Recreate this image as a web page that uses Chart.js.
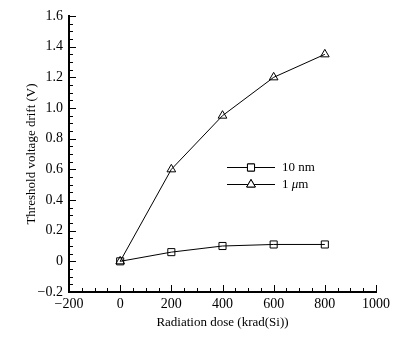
<!DOCTYPE html>
<html>
<head>
<meta charset="utf-8">
<script src="https://cdn.jsdelivr.net/npm/chart.js@4/dist/chart.umd.min.js"></script>
<style>
  html, body { margin: 0; padding: 0; background: #fff; }
  #wrap { width: 409px; height: 337px; }
</style>
</head>
<body>
<div id="wrap"><canvas id="c" width="409" height="337"></canvas></div>
<script>
const doses = [0, 200, 400, 600, 800];
const drift10nm = [0, 0.06, 0.10, 0.11, 0.11];
const drift1um = [0, 0.60, 0.95, 1.20, 1.35];
const seriesNames = ['10 nm', '1 μm'];
const xTicks = [-200, 0, 200, 400, 600, 800, 1000];
const yTicks = [-0.2, 0, 0.2, 0.4, 0.6, 0.8, 1.0, 1.2, 1.4, 1.6];

const FONT = 'Liberation Serif, Times New Roman, serif';

const fmtX = v => v < 0 ? '\u2212' + Math.abs(v) : String(v);
const fmtY = v => {
  if (Math.abs(v) < 1e-9) return '0';
  const s = Math.abs(v).toFixed(1);
  return (v < 0 ? '\u2212' : '') + s;
};

// inward major/minor ticks on the left and bottom axes
const tickMarks = {
  id: 'tickMarks',
  afterDraw(chart) {
    const { ctx, chartArea: a, scales: { x, y } } = chart;
    ctx.save();
    ctx.strokeStyle = '#000';
    ctx.lineWidth = 1;
    ctx.beginPath();
    for (let v = -200; v <= 1000; v += 50) {
      const px = Math.round(x.getPixelForValue(v)) + 0.5;
      const len = v % 200 === 0 ? 7 : 4;
      ctx.moveTo(px, a.bottom);
      ctx.lineTo(px, a.bottom - len);
    }
    for (let i = -4; i <= 32; i++) {
      const v = i * 0.05;
      const py = Math.round(y.getPixelForValue(v)) + 0.5;
      const len = i % 4 === 0 ? 7 : 4;
      ctx.moveTo(a.left, py);
      ctx.lineTo(a.left + len, py);
    }
    ctx.stroke();
    ctx.restore();
  }
};

// legend: line with marker in the middle, then label
const lineLegend = {
  id: 'lineLegend',
  afterDraw(chart) {
    const { ctx } = chart;
    const x0 = 227, x1 = 275, xm = 251, tx = 282;
    const rows = [167, 184];
    ctx.save();
    chart.data.datasets.forEach((ds, i) => {
      const yy = rows[i] + 0.5;
      ctx.strokeStyle = '#000';
      ctx.lineWidth = 1;
      ctx.beginPath();
      ctx.moveTo(x0, yy);
      ctx.lineTo(x1, yy);
      ctx.stroke();
      ctx.fillStyle = '#fff';
      Chart.helpers.drawPoint(ctx, {
        pointStyle: ds.pointStyle, radius: ds.pointRadius, borderWidth: 1
      }, xm, yy);
      ctx.fill();
      ctx.stroke();
      ctx.fillStyle = '#000';
      ctx.textBaseline = 'middle';
      ctx.textAlign = 'left';
      const name = seriesNames[i];
      if (name.indexOf('μ') >= 0) {
        const [pre, post] = name.split('μ');
        ctx.font = '13px ' + FONT;
        ctx.fillText(pre, tx, yy);
        let w = ctx.measureText(pre).width;
        ctx.font = 'italic 13px ' + FONT;
        ctx.fillText('μ', tx + w, yy);
        w += ctx.measureText('μ').width;
        ctx.font = '13px ' + FONT;
        ctx.fillText(post, tx + w, yy);
      } else {
        ctx.font = '13px ' + FONT;
        ctx.fillText(name, tx, yy);
      }
    });
    ctx.restore();
  }
};

const toPts = vals => doses.map((d, i) => ({ x: d, y: vals[i] }));

new Chart(document.getElementById('c').getContext('2d'), {
  type: 'scatter',
  data: {
    datasets: [
      {
        label: seriesNames[0],
        data: toPts(drift10nm),
        showLine: true,
        borderColor: '#000',
        borderWidth: 1,
        backgroundColor: '#fff',
        pointStyle: 'rect',
        pointRadius: 5,
        pointBorderWidth: 1,
        pointBorderColor: '#000',
        pointBackgroundColor: 'rgba(255,255,255,0)'
      },
      {
        label: seriesNames[1],
        data: toPts(drift1um),
        showLine: true,
        borderColor: '#000',
        borderWidth: 1,
        backgroundColor: '#fff',
        pointStyle: 'triangle',
        pointRadius: 5,
        pointBorderWidth: 1,
        pointBorderColor: '#000',
        pointBackgroundColor: 'rgba(255,255,255,0)'
      }
    ]
  },
  options: {
    responsive: false,
    animation: false,
    devicePixelRatio: 1,
    layout: { padding: { top: 16, right: 33, left: 0, bottom: 0 } },
    plugins: {
      legend: { display: false },
      tooltip: { enabled: false }
    },
    scales: {
      x: {
        type: 'linear',
        min: -200,
        max: 1000,
        afterFit: s => { s.height = 45; },
        afterBuildTicks: s => { s.ticks = xTicks.map(v => ({ value: v })); },
        grid: { display: false, drawTicks: false, tickLength: 0 },
        border: { display: true, color: '#000', width: 2 },
        ticks: {
          color: '#000',
          font: { family: FONT, size: 14 },
          padding: 4,
          maxRotation: 0,
          callback: v => fmtX(v)
        },
        title: {
          display: true,
          text: 'Radiation dose (krad(Si))',
          color: '#000',
          font: { family: FONT, size: 13 },
          padding: { top: 2, bottom: 7 }
        }
      },
      y: {
        type: 'linear',
        min: -0.2,
        max: 1.6,
        afterFit: s => { s.width = 69; },
        afterBuildTicks: s => { s.ticks = yTicks.map(v => ({ value: v })); },
        grid: { display: false, drawTicks: false, tickLength: 0 },
        border: { display: true, color: '#000', width: 2 },
        ticks: {
          color: '#000',
          font: { family: FONT, size: 14 },
          padding: 6,
          callback: v => fmtY(v)
        },
        title: {
          display: true,
          text: 'Threshold voltage drift (V)',
          color: '#000',
          font: { family: FONT, size: 13 },
          padding: { top: 24, bottom: 0 }
        }
      }
    }
  },
  plugins: [tickMarks, lineLegend]
});
</script>
</body>
</html>
